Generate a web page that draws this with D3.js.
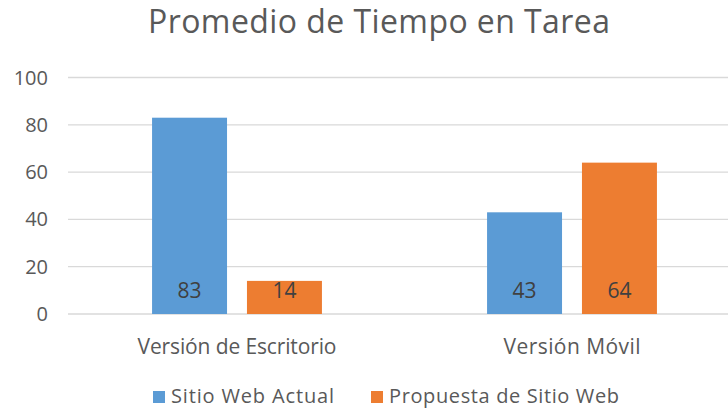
<!DOCTYPE html>
<html>
<head>
<meta charset="utf-8">
<script src="https://cdn.jsdelivr.net/npm/d3@7"></script>
<style>
  body { margin: 0; background: #fff; }
  svg { display: block; font-family: "Open Sans", "Noto Sans", sans-serif; }
</style>
</head>
<body>
<div id="chart"></div>
<script>
// データ
const categories = ["Versión de Escritorio", "Versión Móvil"];
const seriesNames = ["Sitio Web Actual", "Propuesta de Sitio Web"];
const actualValues = [83, 43];
const proposedValues = [14, 64];
const yTicks = [0, 20, 40, 60, 80, 100];

const colors = ["#5B9BD5", "#ED7D31"];
const textColor = "#595959";

// 文字幅（元の図に合わせる）
const categoryTextWidth = [199, 137];
const legendTextWidth = [163, 230];

const width = 728, height = 411;

const svg = d3.select("#chart").append("svg")
  .attr("width", width)
  .attr("height", height);

// スケール
const x0 = d3.scaleBand().domain(categories).range([69.5, 739.5]).padding(0);
const x1 = d3.scaleBand().domain(seriesNames).range([0, x0.bandwidth()])
  .paddingInner(0.21).paddingOuter(0.87);
const y = d3.scaleLinear().domain([0, 100]).range([314, 77.5]);

// グリッド線
svg.append("g")
  .selectAll("line")
  .data(yTicks)
  .join("line")
    .attr("x1", 68)
    .attr("x2", width)
    .attr("y1", d => y(d))
    .attr("y2", d => y(d))
    .attr("stroke", "#D9D9D9")
    .attr("stroke-width", 1.3);

// Y軸ラベル
svg.append("g")
  .selectAll("text")
  .data(yTicks)
  .join("text")
    .attr("x", 48)
    .attr("y", d => y(d))
    .attr("dy", "0.35em")
    .attr("text-anchor", "end")
    .attr("font-size", 20)
    .attr("fill", textColor)
    .text(d => d);

// 棒
const rows = categories.map((c, i) => ({
  cat: c,
  vals: [
    { name: seriesNames[0], value: actualValues[i], color: colors[0] },
    { name: seriesNames[1], value: proposedValues[i], color: colors[1] }
  ]
}));

const groups = svg.append("g")
  .selectAll("g")
  .data(rows)
  .join("g")
    .attr("transform", d => `translate(${x0(d.cat)},0)`);

groups.selectAll("rect")
  .data(d => d.vals)
  .join("rect")
    .attr("x", d => x1(d.name))
    .attr("width", x1.bandwidth())
    .attr("y", d => y(d.value))
    .attr("height", d => y(0) - y(d.value))
    .attr("fill", d => d.color);

// 値ラベル
groups.selectAll("text")
  .data(d => d.vals)
  .join("text")
    .attr("x", d => x1(d.name) + x1.bandwidth() / 2)
    .attr("y", 298)
    .attr("text-anchor", "middle")
    .attr("font-size", 21)
    .attr("fill", "#404040")
    .text(d => d.value);

// カテゴリラベル
svg.append("g")
  .selectAll("text")
  .data(categories)
  .join("text")
    .attr("x", d => x0(d) + x0.bandwidth() / 2)
    .attr("y", 354)
    .attr("text-anchor", "middle")
    .attr("font-size", 21)
    .attr("fill", textColor)
    .attr("textLength", (d, i) => categoryTextWidth[i])
    .attr("lengthAdjust", "spacing")
    .text(d => d);

// タイトル
svg.append("text")
  .attr("x", 379)
  .attr("y", 33)
  .attr("text-anchor", "middle")
  .attr("font-size", 32)
  .attr("fill", textColor)
  .attr("textLength", 462)
  .attr("lengthAdjust", "spacing")
  .text("Promedio de Tiempo en Tarea");

// 凡例
const legendX = [153, 371];
const legend = svg.append("g")
  .selectAll("g")
  .data(seriesNames)
  .join("g")
    .attr("transform", (d, i) => `translate(${legendX[i]},396)`);

legend.append("rect")
  .attr("x", 0)
  .attr("y", -5)
  .attr("width", 12)
  .attr("height", 12)
  .attr("fill", (d, i) => colors[i]);

legend.append("text")
  .attr("x", 18)
  .attr("dy", "0.36em")
  .attr("font-size", 20)
  .attr("fill", textColor)
  .attr("textLength", (d, i) => legendTextWidth[i])
  .attr("lengthAdjust", "spacing")
  .text(d => d);
</script>
</body>
</html>
